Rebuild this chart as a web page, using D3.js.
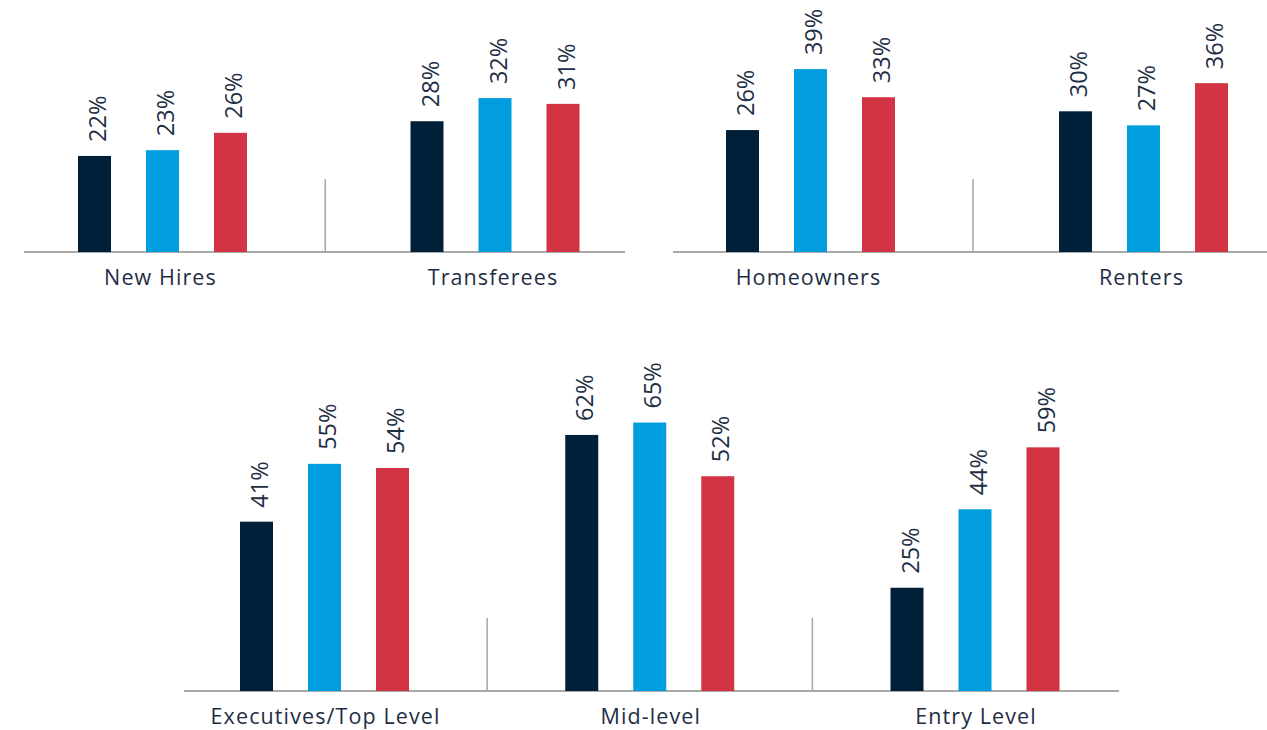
<!DOCTYPE html>
<html>
<head>
<meta charset="utf-8">
<script src="https://cdn.jsdelivr.net/npm/d3@7"></script>
<style>
  html, body { margin: 0; padding: 0; background: #fff; }
  svg { display: block; }
</style>
</head>
<body>
<svg id="chart" width="1267" height="730"></svg>
<script>
// ---- data ----
const series = ["A", "B", "C"];
const seriesColors = ["#001f38", "#009ede", "#d23443"];

const topLeftCategories = ["New Hires", "Transferees"];
const topLeftValues = [[22, 23, 26], [28, 32, 31]];

const topRightCategories = ["Homeowners", "Renters"];
const topRightValues = [[26, 39, 33], [30, 27, 36]];

const bottomCategories = ["Executives/Top Level", "Mid-level", "Entry Level"];
const bottomValues = [[41, 55, 54], [62, 65, 52], [25, 44, 59]];

// ---- drawing ----
const svg = d3.select("#chart");
const FONT = "'Open Sans', sans-serif";
const TEXT = "#1e2e44";
const AXIS = "#a9a9a9";
const barW = 33;

const seriesOffset = d3.scalePoint().domain(series).range([-68, 68]);

function panel(cfg) {
  const g = svg.append("g");
  const x = d3.scalePoint().domain(cfg.categories).range(cfg.centers);
  const y = d3.scaleLinear().domain(cfg.yDomain).range([cfg.baseline, cfg.baseline - cfg.pxPerUnit * (cfg.yDomain[1] - cfg.yDomain[0])]);

  g.append("line")
    .attr("x1", cfg.axisX[0]).attr("x2", cfg.axisX[1])
    .attr("y1", cfg.baseline).attr("y2", cfg.baseline)
    .attr("stroke", AXIS).attr("stroke-width", 2);

  const cats = cfg.categories;
  for (let i = 0; i < cats.length - 1; i++) {
    const xm = (x(cats[i]) + x(cats[i + 1])) / 2 + cfg.dividerShift;
    g.append("line")
      .attr("x1", xm).attr("x2", xm)
      .attr("y1", cfg.baseline).attr("y2", cfg.baseline - cfg.dividerH)
      .attr("stroke", AXIS).attr("stroke-width", 1.6);
  }

  const rows = cats.map((c, i) => series.map((s, j) => ({cat: c, s, j, v: cfg.values[i][j]}))).flat();

  g.selectAll("rect.bar").data(rows).join("rect")
    .attr("class", "bar")
    .attr("x", d => x(d.cat) + seriesOffset(d.s) - barW / 2)
    .attr("y", d => y(d.v))
    .attr("width", barW)
    .attr("height", d => cfg.baseline - y(d.v))
    .attr("fill", d => seriesColors[d.j]);

  g.selectAll("text.val").data(rows).join("text")
    .attr("class", "val")
    .attr("transform", d => `translate(${x(d.cat) + seriesOffset(d.s) + 11.5},${y(d.v) - 14}) rotate(-90)`)
    .attr("text-anchor", "start")
    .attr("font-family", FONT)
    .attr("font-size", 23.5)
    .attr("fill", TEXT)
    .text(d => d.v + "%");

  g.selectAll("text.cat").data(cats).join("text")
    .attr("class", "cat")
    .attr("x", d => x(d) + cfg.labelShift)
    .attr("y", cfg.labelY)
    .attr("text-anchor", "middle")
    .attr("font-family", FONT)
    .attr("font-size", 21.5)
    .attr("letter-spacing", 1.1)
    .attr("fill", TEXT)
    .text(d => d);
}

panel({
  categories: topLeftCategories, values: topLeftValues,
  centers: [162.5, 495], axisX: [24, 625], baseline: 252,
  yDomain: [5.4, 40], pxPerUnit: 5.786, dividerH: 73, dividerShift: -3.5, labelY: 285, labelShift: -2
});
panel({
  categories: topRightCategories, values: topRightValues,
  centers: [810.5, 1143.5], axisX: [673, 1267], baseline: 252,
  yDomain: [0, 40], pxPerUnit: 4.69, dividerH: 73, dividerShift: -4, labelY: 285, labelShift: -2
});
panel({
  categories: bottomCategories, values: bottomValues,
  centers: [324.5, 975], axisX: [184, 1119], baseline: 691,
  yDomain: [0, 70], pxPerUnit: 4.13, dividerH: 73, dividerShift: 0, labelY: 724, labelShift: 1
});
</script>
</body>
</html>
